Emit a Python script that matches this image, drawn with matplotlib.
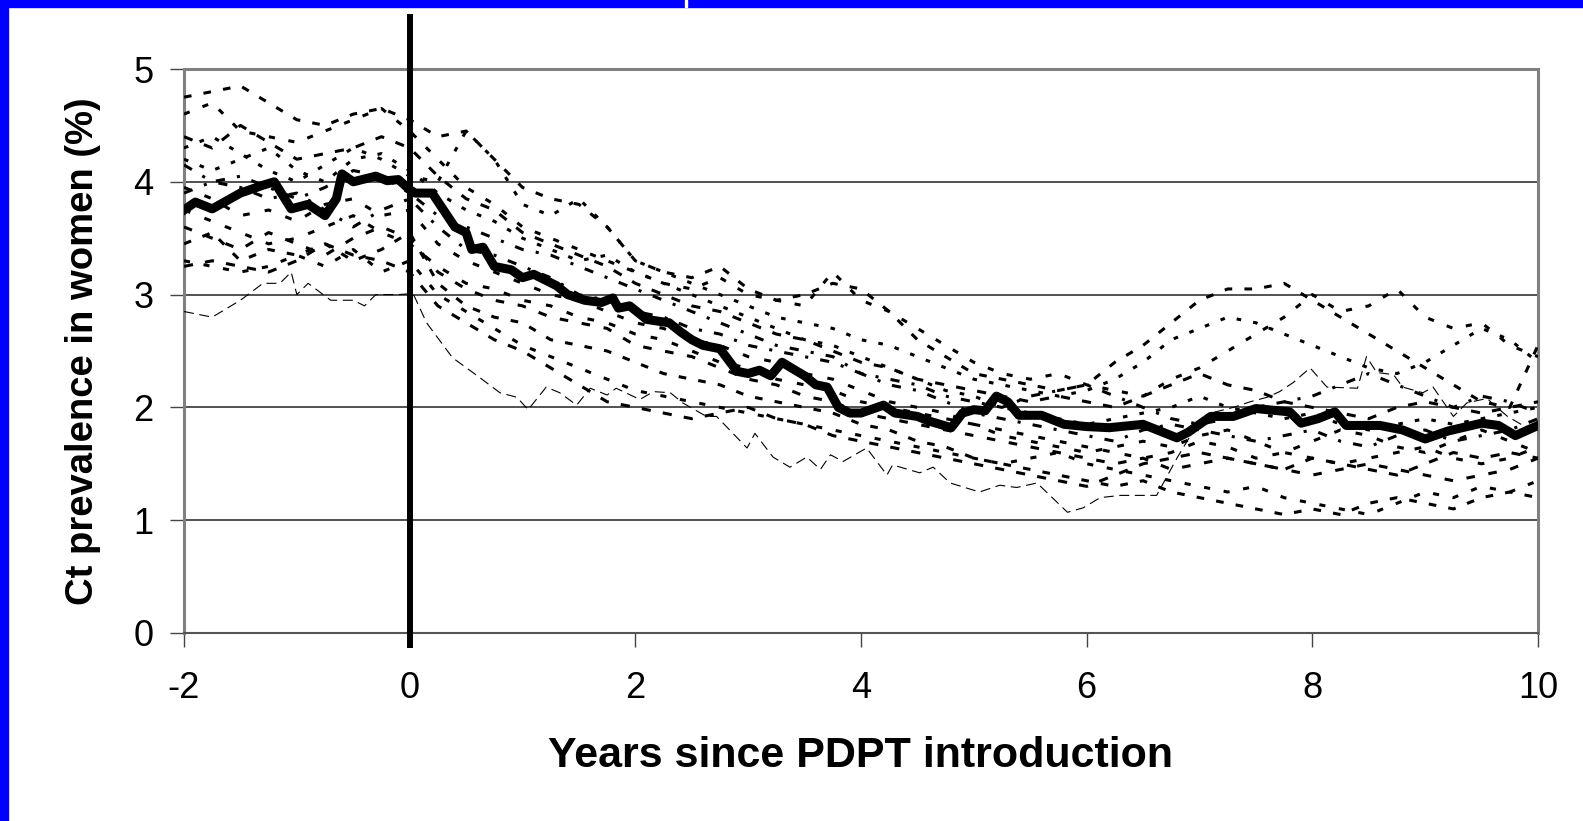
import matplotlib.pyplot as plt
import numpy as np

plt.rcParams['font.family'] = ['Liberation Sans', 'DejaVu Sans']

# time grid of the simulation runs (quarterly, years since PDPT introduction)
t_runs = np.arange(-2, 10.001, 0.25)

# individual simulation runs (prevalence %)
run01 = [4.75, 4.80, 4.85, 4.70, 4.55, 4.50, 4.60, 4.65, 4.55, 4.40, 4.45, 4.20, 3.95, 3.85, 3.80, 3.60,
         3.30, 3.20, 3.15, 3.25, 3.05, 2.95, 3.00, 3.10, 3.05, 2.85, 2.60, 2.45, 2.30, 2.25, 2.20, 2.15,
         2.20, 2.40, 2.55, 2.75, 2.95, 3.05, 3.05, 3.10, 2.95, 2.80, 2.65, 2.50, 2.35, 2.20, 2.05, 2.00, 2.55]
run02 = [4.60, 4.70, 4.45, 4.40, 4.35, 4.45, 4.55, 4.65, 4.45, 4.20, 3.95, 3.80, 3.60, 3.50, 3.40, 3.30,
         3.20, 3.10, 3.05, 3.15, 3.00, 2.95, 2.90, 3.20, 2.95, 2.85, 2.70, 2.55, 2.40, 2.30, 2.25, 2.30,
         2.20, 2.15, 2.10, 2.25, 2.35, 2.50, 2.65, 2.80, 3.00, 2.85, 2.90, 3.05, 2.80, 2.70, 2.75, 2.55, 2.45]
run03 = [4.40, 4.30, 4.50, 4.35, 4.20, 4.25, 4.30, 4.40, 4.30, 4.05, 3.85, 3.75, 3.55, 3.45, 3.35, 3.25,
         3.10, 3.00, 2.90, 2.85, 2.75, 2.65, 2.60, 2.50, 2.40, 2.35, 2.25, 2.20, 2.15, 2.10, 2.05, 2.10,
         2.05, 2.00, 2.10, 2.20, 2.30, 2.20, 2.15, 2.05, 2.00, 1.95, 1.90, 2.00, 2.05, 2.00, 1.95, 2.00, 2.05]
run04 = [4.20, 4.10, 4.20, 4.30, 4.10, 4.00, 4.20, 4.25, 4.10, 3.90, 3.75, 3.65, 3.50, 3.40, 3.30, 3.35,
         3.20, 3.10, 3.00, 2.90, 2.80, 2.70, 2.60, 2.55, 2.45, 2.35, 2.25, 2.15, 2.10, 2.00, 1.95, 1.90,
         1.85, 1.90, 1.95, 2.00, 2.10, 2.00, 1.95, 1.90, 1.95, 1.85, 1.80, 1.85, 1.90, 1.85, 1.90, 1.95, 2.00]
run05 = [4.15, 4.00, 4.05, 3.95, 3.85, 3.95, 4.10, 4.05, 3.90, 3.70, 3.60, 3.50, 3.40, 3.35, 3.25, 3.15,
         3.05, 2.95, 2.85, 2.75, 2.65, 2.55, 2.50, 2.45, 2.30, 2.20, 2.15, 2.05, 1.95, 1.90, 1.85, 1.80,
         1.75, 1.70, 1.80, 1.85, 1.80, 1.75, 1.70, 1.75, 1.80, 1.70, 1.65, 1.75, 1.80, 1.70, 1.75, 1.80, 1.90]
run06 = [3.95, 3.85, 3.70, 3.75, 3.65, 3.80, 3.85, 3.70, 3.75, 3.45, 3.30, 3.20, 3.10, 3.00, 2.95, 2.85,
         2.75, 2.70, 2.60, 2.55, 2.45, 2.40, 2.30, 2.25, 2.15, 2.05, 2.00, 1.95, 1.85, 1.80, 1.75, 1.70,
         1.65, 1.60, 1.55, 1.60, 1.70, 1.65, 1.55, 1.60, 1.70, 1.80, 1.75, 1.65, 1.60, 1.70, 1.80, 1.70, 1.60]
run07 = [3.60, 3.50, 3.40, 3.55, 3.45, 3.35, 3.50, 3.60, 3.50, 3.20, 3.05, 2.95, 2.90, 2.80, 2.75, 2.70,
         2.55, 2.50, 2.45, 2.35, 2.25, 2.20, 2.10, 2.05, 1.95, 1.90, 1.85, 1.80, 1.75, 1.70, 1.65, 1.60,
         1.55, 1.50, 1.55, 1.45, 1.50, 1.55, 1.50, 1.45, 1.40, 1.45, 1.50, 1.45, 1.40, 1.35, 1.40, 1.45, 1.55]
run08 = [3.45, 3.55, 3.30, 3.40, 3.35, 3.45, 3.30, 3.40, 3.55, 3.10, 2.90, 2.80, 2.75, 2.60, 2.55, 2.50,
         2.40, 2.30, 2.25, 2.20, 2.10, 2.05, 2.00, 1.95, 1.85, 1.80, 1.70, 1.65, 1.55, 1.50, 1.45, 1.40,
         1.35, 1.30, 1.35, 1.25, 1.20, 1.15, 1.10, 1.05, 1.10, 1.05, 1.15, 1.20, 1.15, 1.10, 1.20, 1.25, 1.20]
run09 = [3.30, 3.25, 3.20, 3.25, 3.35, 3.25, 3.40, 3.20, 3.30, 3.00, 2.85, 2.70, 2.55, 2.45, 2.35, 2.25,
         2.15, 2.10, 2.05, 2.00, 1.95, 1.90, 1.85, 1.80, 1.75, 1.70, 1.65, 1.60, 1.55, 1.50, 1.55, 1.60,
         1.50, 1.45, 1.40, 1.35, 1.30, 1.25, 1.30, 1.20, 1.15, 1.10, 1.05, 1.15, 1.25, 1.20, 1.30, 1.25, 1.35]
run10 = [3.25, 3.30, 3.25, 3.20, 3.30, 3.45, 3.35, 3.30, 3.20, 2.90, 2.75, 2.60, 2.50, 2.35, 2.20, 2.05,
         2.00, 1.95, 1.90, 1.95, 2.00, 1.90, 1.85, 1.75, 1.70, 1.65, 1.60, 1.55, 1.50, 1.45, 1.40, 1.35,
         1.30, 1.40, 1.50, 1.55, 1.60, 1.55, 1.50, 1.45, 1.55, 1.50, 1.45, 1.40, 1.50, 1.60, 1.55, 1.60, 1.55]
run11 = [4.30, 4.40, 4.25, 4.10, 4.00, 4.15, 4.30, 4.20, 4.05, 4.00, 4.45, 4.20, 3.80, 3.70, 3.85, 3.60,
         3.30, 3.20, 3.10, 3.00, 2.90, 2.80, 2.75, 2.70, 2.60, 2.55, 2.45, 2.35, 2.25, 2.20, 2.15, 2.10,
         2.15, 2.25, 2.40, 2.60, 2.70, 2.80, 2.75, 2.65, 2.55, 2.45, 2.35, 2.30, 2.40, 2.55, 2.70, 2.60, 2.40]
run12 = [3.90, 4.00, 3.95, 3.85, 3.90, 3.75, 3.60, 3.75, 3.85, 3.60, 3.40, 3.35, 3.25, 3.15, 3.00, 2.95,
         2.85, 2.80, 2.70, 2.65, 2.55, 2.50, 2.45, 2.40, 2.30, 2.25, 2.20, 2.10, 2.05, 2.00, 2.10, 2.15,
         2.20, 2.10, 2.00, 1.90, 1.85, 1.90, 2.00, 2.05, 2.10, 2.20, 2.30, 2.20, 2.10, 2.00, 2.10, 2.05, 1.95]
run13 = [3.75, 3.65, 3.55, 3.45, 3.50, 3.60, 3.70, 3.55, 3.45, 3.25, 3.10, 3.05, 2.95, 2.90, 2.80, 2.75,
         2.65, 2.60, 2.50, 2.40, 2.35, 2.25, 2.20, 2.15, 2.05, 2.00, 1.95, 1.90, 1.85, 1.75, 1.70, 1.65,
         1.60, 1.65, 1.70, 1.65, 1.75, 1.80, 1.70, 1.60, 1.55, 1.50, 1.55, 1.60, 1.65, 1.55, 1.50, 1.55, 1.65]
runs = [run01, run02, run03, run04, run05, run06, run07, run08, run09, run10, run11, run12, run13]

# thin dashed run (lowest one at the start)
t_low = [-2.0, -1.75, -1.5, -1.3, -1.15, -1.05, -1.0, -0.9, -0.7, -0.5, -0.4, -0.3, -0.1, 0.03, 0.15,
         0.38, 0.6, 0.8, 0.95, 1.05, 1.21, 1.33, 1.48, 1.6, 1.75, 1.83, 2.04, 2.16, 2.31, 2.42,
         2.63, 2.72, 2.99, 3.06, 3.22, 3.37, 3.52, 3.64, 3.73, 3.84, 4.05, 4.23, 4.28, 4.52, 4.64,
         4.79, 5.05, 5.23, 5.38, 5.56, 5.83, 5.97, 6.12, 6.3, 6.47, 6.62, 6.8, 6.95, 7.1, 7.3,
         7.45, 7.6, 7.71, 7.83, 7.98, 8.13, 8.4, 8.48, 8.57, 8.72, 8.8, 8.98, 9.07, 9.16, 9.25,
         9.37, 9.55, 9.6, 9.73, 9.85, 10.0]
p_low = [2.85, 2.80, 2.95, 3.10, 3.10, 3.20, 3.00, 3.10, 2.95, 2.95, 2.90, 3.00, 3.00, 3.01, 2.75,
         2.44, 2.28, 2.13, 2.09, 1.98, 2.18, 2.13, 2.02, 2.17, 2.11, 2.17, 2.07, 2.14, 2.13, 2.04,
         1.92, 1.92, 1.64, 1.77, 1.56, 1.47, 1.56, 1.45, 1.58, 1.52, 1.64, 1.40, 1.49, 1.42, 1.47,
         1.33, 1.25, 1.31, 1.29, 1.33, 1.07, 1.11, 1.20, 1.22, 1.22, 1.22, 1.55, 1.80, 1.95, 2.00,
         2.05, 2.09, 2.14, 2.22, 2.35, 2.18, 2.17, 2.45, 2.31, 2.29, 2.18, 2.13, 2.18, 2.05, 1.92,
         2.04, 2.08, 2.03, 1.92, 1.85, 1.80]

# thick line (average run)
t_avg = [-2.0, -1.9, -1.75, -1.5, -1.3, -1.2, -1.05, -0.9, -0.75, -0.65, -0.6, -0.5, -0.3, -0.2, -0.1,
         0.0, 0.05, 0.2, 0.3, 0.4, 0.5, 0.55, 0.65, 0.75, 0.9, 1.0, 1.1, 1.3, 1.4, 1.55,
         1.7, 1.8, 1.85, 1.95, 2.1, 2.3, 2.4, 2.5, 2.6, 2.75, 2.9, 3.0, 3.1, 3.2, 3.3,
         3.5, 3.6, 3.7, 3.8, 3.9, 4.0, 4.2, 4.3, 4.5, 4.6, 4.8, 4.9, 5.0, 5.1, 5.2,
         5.3, 5.4, 5.6, 5.8, 6.0, 6.2, 6.5, 6.8, 6.9, 7.1, 7.3, 7.5, 7.8, 7.9, 8.05,
         8.2, 8.3, 8.6, 8.8, 9.0, 9.2, 9.5, 9.65, 9.8, 10.0]
p_avg = [3.75, 3.82, 3.76, 3.90, 3.97, 4.00, 3.76, 3.80, 3.70, 3.85, 4.07, 4.00, 4.05, 4.01, 4.02,
         3.93, 3.90, 3.90, 3.75, 3.60, 3.55, 3.40, 3.42, 3.25, 3.22, 3.15, 3.18, 3.08, 3.00, 2.95,
         2.93, 2.97, 2.88, 2.90, 2.78, 2.75, 2.67, 2.60, 2.55, 2.52, 2.32, 2.30, 2.33, 2.28, 2.40,
         2.28, 2.20, 2.18, 2.00, 1.95, 1.95, 2.02, 1.95, 1.92, 1.88, 1.82, 1.95, 1.98, 1.97, 2.10,
         2.05, 1.93, 1.93, 1.85, 1.83, 1.82, 1.85, 1.73, 1.78, 1.92, 1.92, 1.99, 1.96, 1.86, 1.90,
         1.96, 1.84, 1.84, 1.80, 1.72, 1.79, 1.86, 1.84, 1.75, 1.84]

x_ticks = [-2, 0, 2, 4, 6, 8, 10]
y_ticks = [0, 1, 2, 3, 4, 5]

fig = plt.figure(figsize=(15.83, 8.21), dpi=100)
fig.patch.set_facecolor('white')
ax = fig.add_axes([184 / 1583, 1 - 633 / 821, (1538 - 184) / 1583, (633 - 69) / 821])

dash_styles = [(0, (2.5, 4)), (0, (2, 4.5)), (0, (3, 4)), (0, (1.5, 4)), (0, (3, 4, 1, 4)),
               (0, (2.2, 5)), (0, (2.8, 4.5))]
for i, r in enumerate(runs):
    ax.plot(t_runs, r, color='black', lw=2.2, linestyle=dash_styles[i % len(dash_styles)],
            dash_capstyle='butt', zorder=3)

ax.plot(t_low, p_low, color='black', lw=0.8, linestyle=(0, (9, 5)), zorder=3)
ax.plot(t_avg, p_avg, color='black', lw=6.5, solid_joinstyle='round', zorder=4)

# PDPT introduction
ax.plot([0, 0], [-0.13, 5.49], color='black', lw=4.3, solid_capstyle='butt', clip_on=False, zorder=5)

ax.set_xlim(-2, 10)
ax.set_ylim(0, 5)
ax.set_xticks(x_ticks)
ax.set_yticks(y_ticks)
ax.set_xticklabels([str(v) for v in x_ticks])
ax.set_yticklabels([str(v) for v in y_ticks])

for v in [1, 2, 3, 4]:
    ax.axhline(v, color='#222222', lw=1.1, zorder=1)

for s in ['left', 'top', 'right']:
    ax.spines[s].set_color('#808080')
    ax.spines[s].set_linewidth(2.2)
ax.spines['bottom'].set_color('#555555')
ax.spines['bottom'].set_linewidth(1.5)

ax.tick_params(axis='both', direction='out', length=10, width=1, color='#444444',
               labelsize=26, labelcolor='black')
ax.tick_params(axis='y', pad=12)
ax.tick_params(axis='x', pad=17)

ax.set_xlabel('Years since PDPT introduction', fontsize=31, fontweight='bold', labelpad=22)
ax.set_ylabel('Ct prevalence in women (%)', fontsize=27.5, fontweight='bold', labelpad=23)

# blue slide frame
fig.patches.append(plt.Rectangle((0, 0), 8 / 1583, 1, transform=fig.transFigure,
                                 color='#0000ff', zorder=10))
fig.patches.append(plt.Rectangle((0, 1 - 7 / 821), 1, 7 / 821, transform=fig.transFigure,
                                 color='#0000ff', zorder=10))
fig.patches.append(plt.Rectangle((685 / 1583, 1 - 7 / 821), 2 / 1583, 7 / 821, transform=fig.transFigure,
                                 color='white', zorder=11))

fig.savefig('out.png', dpi=100)
